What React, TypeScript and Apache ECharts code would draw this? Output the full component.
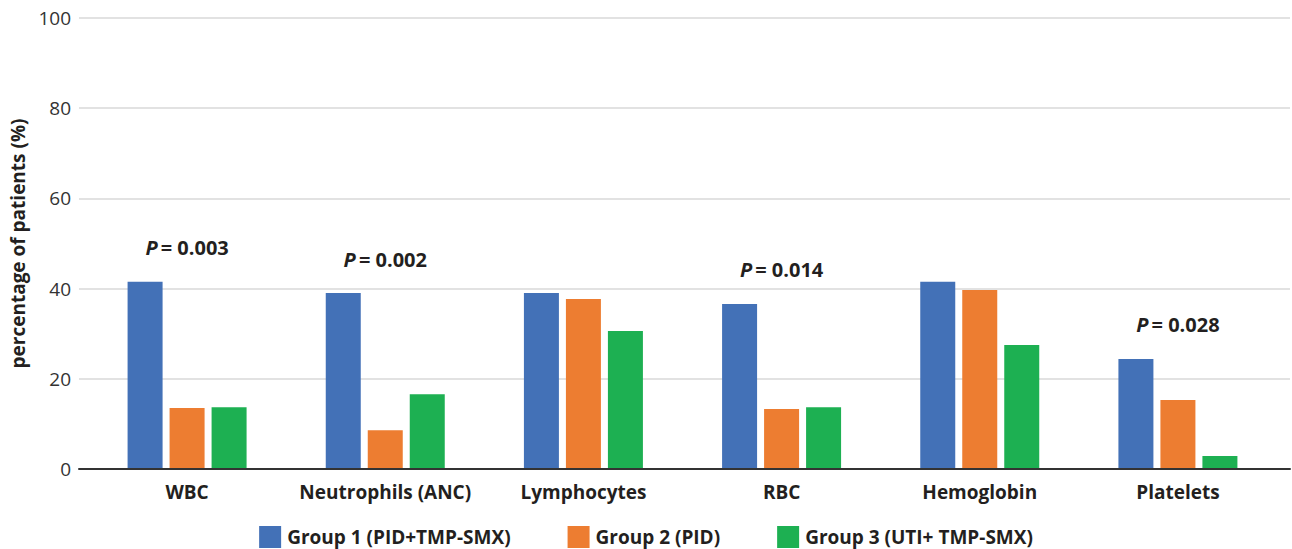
import React, { useEffect, useRef } from "react";
import * as echarts from "echarts";

const categories = ["WBC", "Neutrophils (ANC)", "Lymphocytes", "RBC", "Hemoglobin", "Platelets"];
const seriesNames = ["Group 1 (PID+TMP-SMX)", "Group 2 (PID)", "Group 3 (UTI+ TMP-SMX)"];
const group1 = [41.5, 39.0, 39.0, 36.6, 41.5, 24.4];
const group2 = [13.5, 8.6, 37.7, 13.3, 39.7, 15.3];
const group3 = [13.7, 16.6, 30.6, 13.7, 27.5, 2.9];
const pValues = ["0.003", "0.002", null, "0.014", null, "0.028"];
const yTicks = [0, 20, 40, 60, 80, 100];

const colors = ["#4371B7", "#ED7D31", "#1DB052"];
const FONT = "'Open Sans', 'Noto Sans', sans-serif";
const TEXT = "#231F20";

export default function App() {
  const ref = useRef<HTMLDivElement>(null);
  useEffect(() => {
    if (!ref.current) return;
    const chart = echarts.init(ref.current, null, { renderer: "svg" });
    const markData = pValues
      .map((p, i) => (p ? { coord: [categories[i], group1[i]], value: p } : null))
      .filter((d) => d !== null);
    chart.setOption({
      animation: false,
      textStyle: { fontFamily: FONT },
      grid: [
        { left: 75, right: 2, top: 18, bottom: 80 },
        { left: 88, right: 15, top: 18, bottom: 80 },
      ],
      xAxis: [
        {
          type: "category",
          gridIndex: 0,
          data: categories,
          axisLine: { show: true, lineStyle: { color: "#333333", width: 2 } },
          axisTick: { show: false },
          axisLabel: { show: false },
          z: 5,
        },
        {
          type: "category",
          gridIndex: 1,
          data: categories,
          axisLine: { show: false },
          axisTick: { show: false },
          axisLabel: {
            interval: 0,
            color: TEXT,
            fontFamily: FONT,
            fontWeight: "bold",
            fontSize: 19,
            margin: 13,
          },
        },
      ],
      yAxis: [
        {
          type: "value",
          gridIndex: 0,
          min: yTicks[0],
          max: yTicks[yTicks.length - 1],
          interval: 20,
          name: "percentage of patients (%)",
          nameLocation: "middle",
          nameRotate: 90,
          nameGap: 52,
          nameTextStyle: { color: TEXT, fontFamily: FONT, fontWeight: "bold", fontSize: 19 },
          axisLine: { show: false },
          axisTick: { show: false },
          axisLabel: { color: "#333333", fontFamily: FONT, fontSize: 19, margin: 8 },
          splitLine: { lineStyle: { color: "#D9D9D9", width: 1.5 } },
        },
        {
          type: "value",
          gridIndex: 1,
          min: yTicks[0],
          max: yTicks[yTicks.length - 1],
          interval: 20,
          show: false,
          splitLine: { show: false },
        },
      ],
      legend: {
        top: 526,
        left: "center",
        padding: 0,
        itemWidth: 22,
        itemHeight: 22,
        itemGap: 57,
        icon: "rect",
        textStyle: {
          color: TEXT,
          fontFamily: FONT,
          fontWeight: "bold",
          fontSize: 19,
          lineHeight: 20,
          padding: [0, 0, 0, 1],
        },
        data: seriesNames,
      },
      series: [group1, group2, group3].map((d, i) => ({
        name: seriesNames[i],
        type: "bar",
        xAxisIndex: 1,
        yAxisIndex: 1,
        data: d,
        barWidth: 35,
        barGap: "20%",
        itemStyle: { color: colors[i] },
        markPoint:
          i === 1
            ? {
                symbol: "rect",
                symbolSize: 0,
                data: markData,
                label: {
                  show: true,
                  position: "inside",
                  offset: [0, -34],
                  formatter: (p: any) => `{i|P} {b|= ${p.value}}`,
                  rich: {
                    i: { fontStyle: "italic", fontWeight: "bold", fontSize: 20, color: TEXT, fontFamily: FONT },
                    b: { fontWeight: "bold", fontSize: 20, color: TEXT, fontFamily: FONT },
                  },
                },
              }
            : undefined,
      })),
    });
    return () => chart.dispose();
  }, []);
  return (
    <div
      ref={ref}
      style={{ position: "fixed", left: 0, top: 0, width: 1292, height: 549, background: "#fff" }}
    />
  );
}
